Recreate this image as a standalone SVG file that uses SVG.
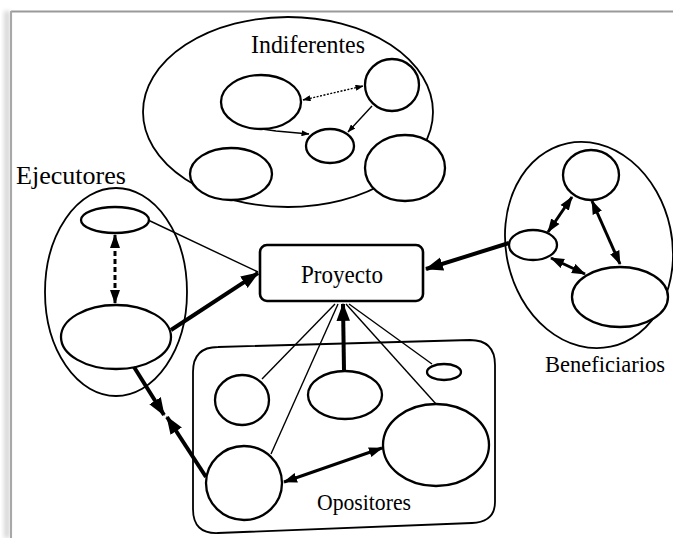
<svg xmlns="http://www.w3.org/2000/svg" width="673" height="538" viewBox="0 0 673 538">
  <style>
    .grp { fill: none; stroke: #000; stroke-width: 1.8; }
    .nd { fill: #fff; stroke: #000; stroke-width: 2.3; }
    .lbl { font-family: "Liberation Serif", "Times New Roman", serif; fill: #000; }
    .thin { fill: none; stroke: #000; stroke-width: 1.4; }
    .thick { fill: none; stroke: #000; stroke-width: 4; }
    .med { fill: none; stroke: #000; stroke-width: 3; }
  </style>
  <defs>
    <marker id="big" viewBox="0 0 16 12" refX="15" refY="6" markerWidth="18" markerHeight="14" markerUnits="userSpaceOnUse" orient="auto-start-reverse">
      <path d="M0,0 L16,6 L0,12 Z" fill="#000"/>
    </marker>
    <marker id="mid" viewBox="0 0 14 10" refX="13" refY="5" markerWidth="14" markerHeight="11" markerUnits="userSpaceOnUse" orient="auto-start-reverse">
      <path d="M0,0 L14,5 L0,10 Z" fill="#000"/>
    </marker>
    <marker id="small" viewBox="0 0 8 6" refX="7.5" refY="3" markerWidth="8" markerHeight="6" markerUnits="userSpaceOnUse" orient="auto-start-reverse">
      <path d="M0,0 L8,3 L0,6 Z" fill="#000"/>
    </marker>
    <filter id="soft" x="-50%" y="-5%" width="200%" height="110%">
      <feGaussianBlur stdDeviation="2"/>
    </filter>
  </defs>

  <rect width="673" height="538" fill="#fff"/>

  <!-- page frame -->
  <g id="frame">
    <rect x="4" y="11" width="6" height="527" fill="#d8d8d8" filter="url(#soft)"/>
    <line x1="11" y1="11.5" x2="673" y2="11.5" stroke="#9a9a9a" stroke-width="2"/>
    <line x1="11" y1="11" x2="11" y2="538" stroke="#a8a8a8" stroke-width="2"/>
  </g>

  <!-- Indiferentes -->
  <g id="indiferentes">
    <ellipse class="grp" cx="288" cy="112" rx="145" ry="95"/>
    <text class="lbl" x="308" y="53" font-size="26" text-anchor="middle" textLength="114" lengthAdjust="spacingAndGlyphs">Indiferentes</text>
    <ellipse id="ind-a" class="nd" cx="261" cy="102" rx="40" ry="27"/>
    <ellipse id="ind-b" class="nd" cx="392" cy="85" rx="27" ry="26"/>
    <ellipse id="ind-c" class="nd" cx="330" cy="146" rx="24" ry="17"/>
    <ellipse id="ind-d" class="nd" cx="231" cy="174" rx="41" ry="26"/>
    <ellipse id="ind-e" class="nd" cx="405" cy="168" rx="40" ry="33"/>
  </g>

  <!-- Ejecutores -->
  <g id="ejecutores">
    <ellipse class="grp" cx="116" cy="292" rx="71" ry="104"/>
    <text class="lbl" x="16" y="184" font-size="26" textLength="110" lengthAdjust="spacingAndGlyphs">Ejecutores</text>
    <ellipse id="eje-a" class="nd" cx="115" cy="220" rx="34" ry="13"/>
    <ellipse id="eje-b" class="nd" cx="116" cy="337" rx="55" ry="32"/>
  </g>

  <!-- Beneficiarios -->
  <g id="beneficiarios">
    <ellipse class="grp" cx="589" cy="245" rx="83" ry="104" transform="rotate(-12 589 245)"/>
    <text class="lbl" x="545" y="372" font-size="24" textLength="120" lengthAdjust="spacingAndGlyphs">Beneficiarios</text>
    <ellipse id="ben-a" class="nd" cx="591" cy="175" rx="28" ry="25"/>
    <ellipse id="ben-b" class="nd" cx="533" cy="245" rx="24" ry="15"/>
    <ellipse id="ben-c" class="nd" cx="620" cy="297" rx="48" ry="30"/>
  </g>

  <!-- Opositores -->
  <g id="opositores">
    <path class="grp" d="M218,347 L470,340 Q495,340 495,365 L495,502 Q495,522 472,523 L218,533 Q193,534 193,509 L193,372 Q193,347 218,347 Z"/>
    <text class="lbl" x="317" y="510" font-size="24" textLength="94" lengthAdjust="spacingAndGlyphs">Opositores</text>
  </g>

  <!-- connectors -->
  <g id="connectors">
    <!-- inside Indiferentes -->
    <path class="thin" d="M303,100 L363,86" stroke-dasharray="2 1.5" marker-start="url(#small)" marker-end="url(#small)"/>
    <path class="thin" d="M372,106 L348,132" marker-end="url(#small)"/>
    <path class="thin" d="M262,129 L276,131 L309,134" marker-end="url(#small)"/>

    <!-- inside Ejecutores -->
    <path class="med" d="M115,235 L115,303" stroke-dasharray="5 3" marker-start="url(#mid)" marker-end="url(#mid)"/>

    <!-- Ejecutores to Proyecto -->
    <path class="thin" d="M148,220 L258,272"/>
    <path class="thick" d="M171,330 L258,273" marker-end="url(#big)"/>

    <!-- Ejecutores to Opositores, meeting halfway -->
    <path class="thick" d="M134,367 L164,415" marker-end="url(#big)"/>
    <path class="thick" d="M206,477 L167,417" marker-end="url(#big)"/>

    <!-- inside Beneficiarios -->
    <path class="med" d="M548,232 L572,197" marker-start="url(#mid)" marker-end="url(#mid)"/>
    <path class="med" d="M592,201 L620,264" marker-start="url(#mid)" marker-end="url(#mid)"/>
    <path class="med" d="M551,258 L585,274" marker-start="url(#mid)" marker-end="url(#mid)"/>

    <!-- Beneficiarios to Proyecto -->
    <path class="thick" d="M509,243 L426,269" marker-end="url(#big)"/>

    <!-- Opositores to Proyecto -->
    <path class="thin" d="M262,379 L335,304"/>
    <path class="thin" d="M271,454 L338,304"/>
    <path class="thin" d="M432,364 L349,304"/>
    <path class="thin" d="M436,404 L346,304"/>
    <path class="thick" d="M344,371 L343,304" stroke-width="5" marker-end="url(#big)"/>

    <!-- inside Opositores -->
    <path class="med" d="M284,482 L382,448" marker-start="url(#mid)" marker-end="url(#mid)"/>
  </g>

  <!-- Opositores members, drawn over the converging lines -->
  <g id="opositores-members">
    <ellipse id="opo-a" class="nd" cx="242" cy="400" rx="27" ry="25"/>
    <ellipse id="opo-b" class="nd" cx="345" cy="395" rx="37" ry="24"/>
    <ellipse id="opo-c" class="nd" cx="444" cy="372" rx="17" ry="8"/>
    <ellipse id="opo-d" class="nd" cx="436" cy="445" rx="53" ry="41"/>
    <ellipse id="opo-e" class="nd" cx="244" cy="483" rx="38" ry="37"/>
  </g>

  <!-- Proyecto -->
  <g id="proyecto">
    <rect x="260" y="245" width="163" height="56" rx="7" fill="#fff" stroke="#000" stroke-width="2.6"/>
    <text class="lbl" x="342" y="283" font-size="25" text-anchor="middle" textLength="82" lengthAdjust="spacingAndGlyphs">Proyecto</text>
  </g>
</svg>
